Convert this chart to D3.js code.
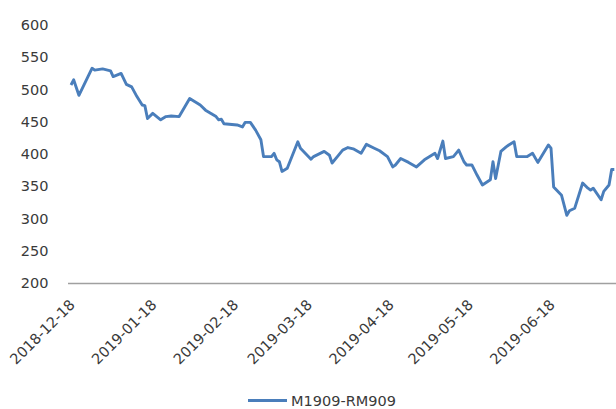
<!DOCTYPE html>
<html>
<head>
<meta charset="utf-8">
<script src="https://d3js.org/d3.v7.min.js"></script>
<style>
	body { margin:0; background:#fff; }
	svg text { font-family: 'DejaVu Sans', sans-serif; fill:#3a3a3a; }
</style>
</head>
<body>
<div id="chart"></div>
<script>

// DATA
var dates = ["2018-12-18","2018-12-19","2018-12-21","2018-12-26","2018-12-27","2018-12-30",
	"2019-01-02","2019-01-03","2019-01-06","2019-01-08","2019-01-10","2019-01-12","2019-01-14",
	"2019-01-15","2019-01-16","2019-01-18","2019-01-21","2019-01-23","2019-01-25","2019-01-28",
	"2019-02-01","2019-02-03","2019-02-05","2019-02-07","2019-02-11","2019-02-12","2019-02-13",
	"2019-02-14","2019-02-19","2019-02-21","2019-02-22","2019-02-24","2019-02-26","2019-02-28",
	"2019-03-01","2019-03-04","2019-03-05","2019-03-06","2019-03-07","2019-03-08","2019-03-10",
	"2019-03-14","2019-03-15","2019-03-19","2019-03-20","2019-03-24","2019-03-26","2019-03-27",
	"2019-03-29","2019-03-31","2019-04-02","2019-04-04","2019-04-07","2019-04-09","2019-04-12",
	"2019-04-14","2019-04-17","2019-04-19","2019-04-20","2019-04-22","2019-04-25","2019-04-28",
	"2019-05-01","2019-05-03","2019-05-05","2019-05-06","2019-05-08","2019-05-09","2019-05-12",
	"2019-05-14","2019-05-16","2019-05-17","2019-05-19","2019-05-21","2019-05-23","2019-05-26",
	"2019-05-27","2019-05-28","2019-05-29","2019-05-30","2019-06-01","2019-06-02","2019-06-04",
	"2019-06-05","2019-06-09","2019-06-11","2019-06-13","2019-06-17","2019-06-18","2019-06-19",
	"2019-06-22","2019-06-24","2019-06-25","2019-06-27","2019-06-30","2019-07-02","2019-07-03",
	"2019-07-04","2019-07-07","2019-07-08","2019-07-10","2019-07-11","2019-07-12"];

var spread = [507,515,491,533,530,532,
	529,520,525,508,504,489,476,
	475,455,463,453,458,459,458,
	486,481,476,468,458,453,454,
	447,445,442,449,449,437,422,
	396,396,401,391,388,373,378,
	419,409,392,396,404,398,386,
	396,406,410,408,401,415,409,
	405,396,380,383,393,387,380,
	391,396,401,393,420,393,396,
	406,388,383,383,367,352,360,
	388,362,383,404,411,414,419,
	396,396,401,387,414,409,349,
	336,305,312,316,355,347,344,
	347,329,342,352,376,376];

var yTicks = [200,250,300,350,400,450,500,550,600];
var xTicks = ["2018-12-18","2019-01-18","2019-02-18","2019-03-18","2019-04-18","2019-05-18","2019-06-18"];
var seriesName = "M1909-RM909";

// SETUP
var width = 616, height = 409;
var parse = d3.utcParse("%Y-%m-%d");

var svg = d3.select("#chart").append("svg")
	.attr("width", width)
	.attr("height", height);

var x = d3.scaleUtc()
	.domain([parse("2018-12-18"), parse("2019-06-18")])
	.range([71, 551]);

var y = d3.scaleLinear()
	.domain([200, 600])
	.range([283, 25]);

// Y LABELS
svg.append("g").selectAll("text")
	.data(yTicks)
	.enter().append("text")
	.attr("x", 48.5)
	.attr("y", function(d){ return y(d); })
	.attr("dy", "0.36em")
	.attr("text-anchor", "end")
	.style("font-size", "14.5px")
	.text(function(d){ return d; });

// X AXIS LINE
svg.append("line")
	.attr("x1", 68).attr("x2", width)
	.attr("y1", y(200) + 0.5).attr("y2", y(200) + 0.5)
	.attr("stroke", "#a0a0a0")
	.attr("stroke-width", 1.3);

// X LABELS (rotated)
svg.append("g").selectAll("text")
	.data(xTicks)
	.enter().append("text")
	.attr("transform", function(d){
		return "translate(" + (x(parse(d)) + 1) + "," + (y(200) + 19) + ") rotate(-45)";
	})
	.attr("dy", "0.36em")
	.attr("text-anchor", "end")
	.style("font-size", "14.5px")
	.text(function(d){ return d; });

// LINE
var rows = dates.map(function(d, i){ return {date: parse(d), value: spread[i]}; });

var line = d3.line()
	.x(function(d){ return x(d.date); })
	.y(function(d){ return y(d.value); });

svg.append("path")
	.datum(rows)
	.attr("fill", "none")
	.attr("stroke", "#4a7ebb")
	.attr("stroke-width", 2.9)
	.attr("stroke-linejoin", "round")
	.attr("d", line);

// LEGEND
var legend = svg.append("g").attr("transform", "translate(248,400.5)");
legend.append("line")
	.attr("x1", 0).attr("x2", 39)
	.attr("stroke", "#4a7ebb")
	.attr("stroke-width", 2.9);
legend.append("text")
	.attr("x", 43)
	.attr("dy", "0.35em")
	.style("font-size", "14.5px")
	.text(seriesName);

</script>
</body>
</html>
